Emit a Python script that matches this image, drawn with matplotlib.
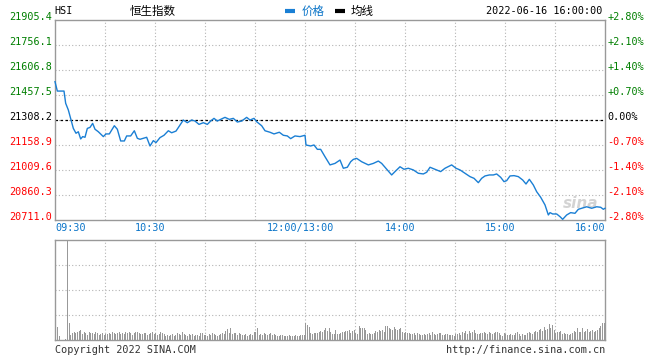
#!/usr/bin/env python3
"""恒生指数 2022-06-16 分时图（仿新浪财经样式）。"""

import matplotlib
matplotlib.use("Agg")
import matplotlib.pyplot as plt
from matplotlib.transforms import ScaledTranslation, blended_transform_factory

MONO = "DejaVu Sans Mono"
CJK = ["Noto Sans CJK SC", "DejaVu Sans"]

PREV_CLOSE = 21308.2
Y_TICKS = [20711.0, 20860.3, 21009.6, 21158.9, 21308.2, 21457.5, 21606.8, 21756.1, 21905.4]
PCT_LABELS = ["-2.80%", "-2.10%", "-1.40%", "-0.70%", "0.00%", "+0.70%", "+1.40%", "+2.10%", "+2.80%"]
X_TICKS = [0, 60, 150, 210, 270, 330]
X_LABELS = ["09:30", "10:30", "12:00/13:00", "14:00", "15:00", "16:00"]

# 交易分钟（自 09:30 起，午休已剔除）与价格
minutes = [0, 1.4, 5.4, 6.4, 8, 9.6, 11, 12.6, 14, 15.4, 16.6, 18, 19.4, 21, 22.6, 24, 26, 29,
           30.6, 32.6, 35.6, 37.4, 39.4, 41.6, 43, 45.4, 47.6, 49.4, 51, 53, 55, 57, 59, 60.6,
           63, 65.4, 68, 70, 72.6, 75, 77, 79.4, 82, 84, 86.4, 89, 91.4, 93.4, 95.4, 97.4, 99.4,
           102, 104.6, 107, 109.4, 112, 115, 117, 119.4, 121, 124, 126, 129, 131.4, 134.6, 137,
           139.4, 141.4, 144, 147, 150, 150.6, 153.4, 155.4, 157.4, 159.4, 162, 165, 168, 171,
           173, 175.4, 177.4, 179, 181, 184, 188, 191, 194, 196, 199, 202, 204, 207, 209.4, 212,
           215, 218, 221, 223, 225, 228, 231.4, 234, 238, 240.6, 243, 246, 249, 251.4, 254, 256,
           258, 260.6, 263, 265, 267.4, 269.4, 271, 273, 275.4, 278, 280.6, 282.6, 284.6, 287,
           289, 291.4, 294, 296, 297, 298.6, 301, 303, 304.6, 307, 309.4, 312, 314, 316, 319,
           322, 325, 327.4, 329, 330]
prices = [21537, 21481, 21481, 21408, 21368, 21308, 21258, 21229, 21238, 21195, 21209, 21205,
          21258, 21264, 21288, 21253, 21238, 21209, 21225, 21225, 21274, 21253, 21183, 21183,
          21213, 21213, 21244, 21199, 21193, 21199, 21205, 21153, 21185, 21173, 21203, 21217,
          21244, 21232, 21242, 21278, 21308, 21292, 21308, 21302, 21282, 21292, 21282, 21302,
          21318, 21302, 21312, 21324, 21312, 21318, 21296, 21302, 21324, 21308, 21318, 21298,
          21274, 21244, 21235, 21225, 21235, 21217, 21213, 21197, 21213, 21209, 21217, 21159,
          21153, 21159, 21133, 21133, 21089, 21040, 21049, 21069, 21020, 21026, 21059, 21073,
          21079, 21059, 21040, 21049, 21063, 21049, 21014, 20980, 21000, 21029, 21014, 21020,
          21010, 20990, 20986, 20996, 21026, 21014, 21000, 21020, 21040, 21020, 21010, 20990,
          20970, 20960, 20934, 20960, 20974, 20980, 20980, 20986, 20966, 20940, 20946, 20974,
          20976, 20970, 20950, 20926, 20954, 20920, 20880, 20847, 20801, 20741, 20755, 20747,
          20747, 20731, 20715, 20741, 20755, 20751, 20775, 20781, 20790, 20781, 20790, 20787,
          20775, 20781]

# 每分钟成交量（相对值，量图满格为 100）
volume = [0, 13, 4, 0, 0, 0, 1, 140, 17,
          5, 7, 8, 7, 8, 9, 10, 6, 8, 7, 5, 8, 7, 7, 6, 8, 7, 5, 6, 7,
          5, 6, 6, 7, 6, 8, 7, 6, 7, 8, 6, 7, 6, 8, 7, 8, 7, 5, 7, 8,
          8, 7, 6, 6, 7, 7, 5, 6, 7, 8, 6, 7, 5, 6, 8, 7, 6,
          4, 5, 4, 5, 6, 4, 5, 7, 6, 5, 8, 6, 5, 4, 6, 5, 6, 4, 5, 5,
          4, 7, 7, 5, 5, 4, 6, 5, 7, 6, 5, 4, 5, 6, 7, 6, 9, 11, 7, 12,
          6, 7, 7, 5, 7, 6, 5, 5, 6, 4, 5, 6, 5, 8, 8, 12, 5, 6, 5, 7,
          6, 5, 6, 7, 5, 6,
          5, 4, 4, 5, 5, 4, 4, 4, 5, 4, 4, 4, 5, 4, 4, 5, 5, 5, 17, 15,
          13, 7, 6, 7, 7, 7, 8, 9, 8, 10, 12, 9, 12, 8, 6, 6, 10, 6, 6, 7,
          8, 8, 9, 9, 10, 7, 9, 10, 7, 6, 14, 12, 12, 12, 10, 6, 7, 6, 6, 7,
          9, 8, 10, 9, 10, 8,
          14, 14, 12, 11, 10, 13, 11, 10, 11, 12, 8, 7, 8, 7, 7, 6, 6, 7, 5, 7,
          6, 5, 5, 6, 5, 6, 7, 5, 8, 6, 5, 6, 7, 7, 5, 5, 6, 6, 5, 5,
          5, 4, 6, 6, 7, 5, 8, 7, 9, 6, 9, 7, 8, 10, 7, 6, 6, 7, 7, 8,
          7, 6, 8, 7, 6, 7,
          8, 8, 7, 5, 4, 7, 6, 5, 5, 6, 5, 5, 7, 8, 6, 4, 6, 5, 5, 7,
          8, 7, 6, 8, 9, 8, 10, 11, 9, 13, 10, 11, 16, 12, 15, 10, 7, 8, 8, 9,
          6, 7, 6, 6, 5, 6, 7, 9, 8, 12, 8, 8, 12, 8, 9, 11, 8, 9, 10, 8,
          9, 10, 12, 14, 17, 17]

LINE_BLUE = "#1a7fd4"
TICK_BLUE = "#0a74c8"
GREEN = "#007f00"
RED = "#ff0000"
BORDER = "#999999"
GRID = "#b4b4b4"

W, H = 660, 360
fig = plt.figure(figsize=(W / 100, H / 100), dpi=100)
fig.patch.set_facecolor("white")

ax = fig.add_axes([55 / W, (H - 220) / H, 550 / W, 200 / H])
axv = fig.add_axes([55 / W, (H - 340) / H, 550 / W, 100 / H])

for a in (ax, axv):
    for sp in a.spines.values():
        sp.set_color(BORDER)
        sp.set_linewidth(1.0)
    a.set_xlim(0, 330)
    a.set_xticks(range(30, 330, 30))
    a.tick_params(length=0, labelbottom=False, labelleft=False)
    a.grid(True, color=GRID, linestyle=(0, (1, 2)), linewidth=0.8)
    a.set_axisbelow(True)

# 价格图
ax.set_ylim(Y_TICKS[0], Y_TICKS[-1])
ax.set_yticks(Y_TICKS[1:-1])
ax.axhline(PREV_CLOSE, color="black", linestyle=(0, (2, 2)), linewidth=0.9, zorder=2)
ax.plot(minutes, prices, color=LINE_BLUE, linewidth=1.0, zorder=3, clip_on=False)

left_tr = blended_transform_factory(ax.transAxes, ax.transData)
for val, pct in zip(Y_TICKS, PCT_LABELS):
    if val > PREV_CLOSE + 1:
        col = GREEN
    elif val < PREV_CLOSE - 1:
        col = RED
    else:
        col = "black"
    ax.text(-0.006, val, f"{val:.1f}", transform=left_tr, ha="right", va="baseline",
            color=col, fontsize=7.3, family=MONO)
    ax.text(1.004, val, pct, transform=left_tr, ha="left", va="baseline",
            color=col, fontsize=7.3, family=MONO)

bottom_tr = blended_transform_factory(ax.transData, ax.transAxes)
shift = ScaledTranslation(-5 / 100, 0, fig.dpi_scale_trans)
for i, (m, lab) in enumerate(zip(X_TICKS, X_LABELS)):
    if i == 0:
        ha, tr = "left", bottom_tr
    elif i == len(X_TICKS) - 1:
        ha, tr = "right", bottom_tr
    else:
        ha, tr = "center", bottom_tr + shift
    ax.text(m, -0.013, lab, transform=tr, ha=ha, va="top",
            color=TICK_BLUE, fontsize=7.3, family=MONO)

# 新浪水印
ax.text(0.955, 0.085, "sina", transform=ax.transAxes, ha="center", va="center",
        fontsize=11, fontstyle="italic", fontweight="bold", color="#b0b0b0", alpha=0.55,
        family="DejaVu Sans", zorder=1)

# 成交量图
axv.set_ylim(0, 100)
axv.set_yticks([25, 50, 75])
axv.bar([i + 0.5 for i in range(len(volume))], volume, width=0.7, color="#999999",
        linewidth=0, zorder=3)

# 顶部标题与图例
fig.text(54 / W, 1 - 14 / H, "HSI", fontsize=7.3, family=MONO, color="black")
fig.text(130 / W, 1 - 14.5 / H, "恒生指数", fontsize=8.3, family=CJK, color="black")
fig.add_artist(plt.Line2D([285 / W, 295 / W], [1 - 11 / H, 1 - 11 / H], color=LINE_BLUE,
                          linewidth=3, solid_capstyle="butt"))
fig.text(302 / W, 1 - 14.5 / H, "价格", fontsize=8.3, family=CJK, color=TICK_BLUE)
fig.add_artist(plt.Line2D([335 / W, 345 / W], [1 - 11 / H, 1 - 11 / H], color="black",
                          linewidth=3, solid_capstyle="butt"))
fig.text(351 / W, 1 - 14.5 / H, "均线", fontsize=8.3, family=CJK, color="black")
fig.text(602 / W, 1 - 14 / H, "2022-06-16 16:00:00", ha="right", fontsize=7.3,
         family=MONO, color="black")

# 底部版权
fig.text(55 / W, 1 - 353 / H, "Copyright 2022 SINA.COM", fontsize=7.3, family=MONO,
         color="#333333")
fig.text(605 / W, 1 - 353 / H, "http://finance.sina.com.cn", ha="right", fontsize=7.3,
         family=MONO, color="#333333")

fig.savefig("out.png", dpi=100)
